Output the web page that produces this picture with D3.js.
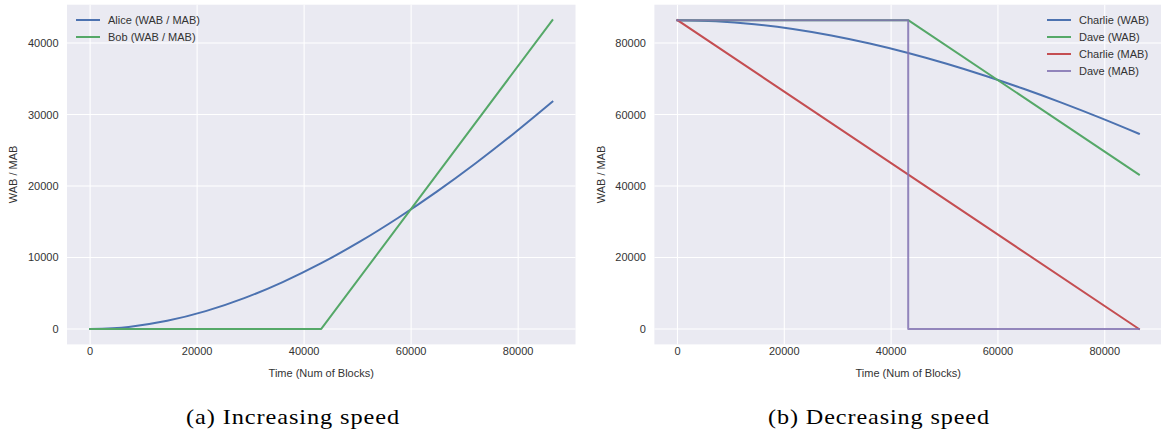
<!DOCTYPE html>
<html>
<head>
<meta charset="utf-8">
<script src="https://cdn.jsdelivr.net/npm/d3@7/dist/d3.min.js"></script>
<style>
  html, body { margin: 0; padding: 0; background: #ffffff; }
  svg { display: block; }
  .tick-label { font-family: "Liberation Sans", Arial, sans-serif; font-size: 11px; fill: #333333; }
  .axis-label { font-family: "Liberation Sans", Arial, sans-serif; font-size: 11px; fill: #333333; }
  .legend-label { font-family: "Liberation Sans", Arial, sans-serif; font-size: 11px; fill: #333333; }
  .caption { font-family: "Liberation Serif", "Times New Roman", serif; font-size: 21.5px; letter-spacing: 0.8px; fill: #000000; }
</style>
</head>
<body>
<svg id="chart" width="1161" height="435"></svg>
<script>
// ---------- data ----------
const xTicks = [0, 20000, 40000, 60000, 80000];
const yTicksA = [0, 10000, 20000, 30000, 40000];
const yTicksB = [0, 20000, 40000, 60000, 80000];

// shared time samples for curved series
const timeSamples = [0, 7200, 14400, 21600, 28800, 36000, 43200, 50400, 57600, 64800, 72000, 79200, 86400];
const aliceWAB   = [0, 290, 1140, 2490, 4310, 6560, 9200, 12210, 15560, 19210, 23150, 27350, 31790];
const charlieWAB = [86400, 86110, 85260, 83910, 82090, 79840, 77200, 74190, 70840, 67190, 63250, 59050, 54610];

// piecewise-linear series
const bobTime     = [0, 43200, 86400];
const bobWAB      = [0, 0, 43200];
const daveWABTime = [0, 43200, 86400];
const daveWAB     = [86400, 86400, 43200];
const charlieMABTime = [0, 86400];
const charlieMAB     = [86400, 0];
const daveMABTime = [0, 43200, 43200, 86400];
const daveMAB     = [86400, 86400, 0, 0];

const xLabel = "Time (Num of Blocks)";
const yLabel = "WAB / MAB";
const captionA = "(a) Increasing speed";
const captionB = "(b) Decreasing speed";

const colors = { blue: "#4C72B0", green: "#55A868", red: "#C44E52", purple: "#8172B2" };

// ---------- drawing ----------
const svg = d3.select("#chart");
const fmt = d3.format("d");

function zip(xs, ys) { return xs.map((x, i) => [x, ys[i]]); }

function panel(opts) {
  const x = d3.scaleLinear().domain([-4320, 90720]).range([opts.x0, opts.x1]);
  const y = d3.scaleLinear().domain(opts.yDomain).range([344.4, 4.7]);
  const g = svg.append("g");

  const clipId = "clip" + opts.id;
  svg.append("defs").append("clipPath").attr("id", clipId)
    .append("rect").attr("x", opts.x0).attr("y", 4.7)
    .attr("width", opts.x1 - opts.x0).attr("height", 344.4 - 4.7);

  g.append("rect").attr("x", opts.x0).attr("y", 4.7)
    .attr("width", opts.x1 - opts.x0).attr("height", 344.4 - 4.7)
    .attr("fill", "#EAEAF2");

  // grid
  g.selectAll(".gx").data(xTicks).enter().append("line")
    .attr("x1", d => x(d)).attr("x2", d => x(d))
    .attr("y1", 4.7).attr("y2", 344.4)
    .attr("stroke", "#ffffff").attr("stroke-width", 1.1);
  g.selectAll(".gy").data(opts.yTicks).enter().append("line")
    .attr("x1", opts.x0).attr("x2", opts.x1)
    .attr("y1", d => y(d)).attr("y2", d => y(d))
    .attr("stroke", "#ffffff").attr("stroke-width", 1.1);

  // tick labels
  g.selectAll(".tx").data(xTicks).enter().append("text")
    .attr("class", "tick-label")
    .attr("x", d => x(d)).attr("y", 355)
    .attr("text-anchor", "middle").text(d => fmt(d));
  g.selectAll(".ty").data(opts.yTicks).enter().append("text")
    .attr("class", "tick-label")
    .attr("x", opts.x0 - 8.5).attr("y", d => y(d) + 4)
    .attr("text-anchor", "end").text(d => fmt(d));

  // axis labels
  g.append("text").attr("class", "axis-label")
    .attr("x", (opts.x0 + opts.x1) / 2).attr("y", 377)
    .attr("text-anchor", "middle").text(xLabel);
  g.append("text").attr("class", "axis-label")
    .attr("transform", `translate(${opts.yLabelX},174.5) rotate(-90)`)
    .attr("text-anchor", "middle").text(yLabel);

  // lines
  const plot = g.append("g").attr("clip-path", `url(#${clipId})`);
  opts.series.forEach(s => {
    const line = d3.line().x(d => x(d[0])).y(d => y(d[1]))
      .curve(s.smooth ? d3.curveMonotoneX : d3.curveLinear);
    plot.append("path").datum(zip(s.t, s.v))
      .attr("d", line).attr("fill", "none")
      .attr("stroke", s.color).attr("stroke-width", 2)
      .attr("stroke-opacity", s.opacity || 1)
      .attr("stroke-linejoin", "round").attr("stroke-linecap", "square");
  });

  // legend
  const lg = g.append("g");
  opts.series.forEach((s, i) => {
    const ly = 20 + i * 17;
    lg.append("line").attr("x1", opts.legendX).attr("x2", opts.legendX + 24)
      .attr("y1", ly).attr("y2", ly)
      .attr("stroke", s.color).attr("stroke-width", 2)
      .attr("stroke-opacity", s.opacity || 1);
    lg.append("text").attr("class", "legend-label")
      .attr("x", opts.legendX + 32).attr("y", ly + 4).text(s.name);
  });

  // caption
  svg.append("text").attr("class", "caption")
    .attr("x", opts.captionX).attr("y", 424)
    .attr("text-anchor", "middle")
    .attr("textLength", opts.captionW).attr("lengthAdjust", "spacingAndGlyphs")
    .text(opts.caption);
}

panel({
  id: "A", x0: 67, x1: 575.5, yDomain: [-2160, 45360], yTicks: yTicksA,
  yLabelX: 17, legendX: 76, captionX: 293, captionW: 214, caption: captionA,
  series: [
    { name: "Alice (WAB / MAB)", t: timeSamples, v: aliceWAB, color: colors.blue, smooth: true },
    { name: "Bob (WAB / MAB)", t: bobTime, v: bobWAB, color: colors.green }
  ]
});

panel({
  id: "B", x0: 654.4, x1: 1162, yDomain: [-4320, 90720], yTicks: yTicksB,
  yLabelX: 605, legendX: 1047, captionX: 879, captionW: 222, caption: captionB,
  series: [
    { name: "Charlie (WAB)", t: timeSamples, v: charlieWAB, color: colors.blue, smooth: true },
    { name: "Dave (WAB)", t: daveWABTime, v: daveWAB, color: colors.green },
    { name: "Charlie (MAB)", t: charlieMABTime, v: charlieMAB, color: colors.red },
    { name: "Dave (MAB)", t: daveMABTime, v: daveMAB, color: colors.purple, opacity: 0.85 }
  ]
});
</script>
</body>
</html>
